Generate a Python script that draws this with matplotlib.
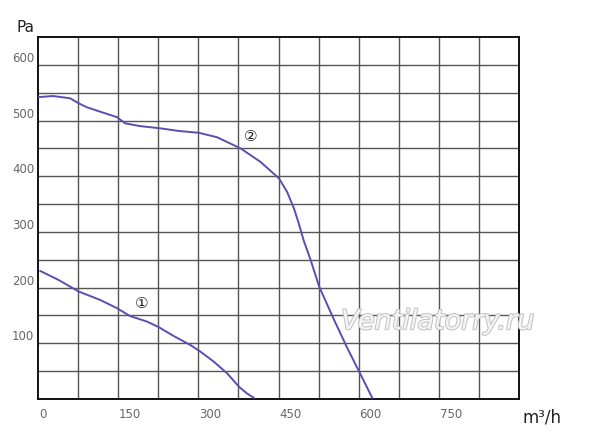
import matplotlib
matplotlib.use("Agg")
import matplotlib.pyplot as plt
import matplotlib.patheffects as pe
import matplotlib.transforms as mtransforms

# Curve 1 (m3/h, Pa)
c1_x = [4, 38, 76, 116, 148, 172, 204, 226, 254, 285, 304, 329, 354, 376, 391, 404]
c1_y = [230, 214, 193, 178, 163, 149, 139, 129, 113, 97, 85, 67, 46, 22, 10, 2]

# Curve 2 (m3/h, Pa)
c2_x = [0, 28, 60, 76, 91, 116, 148, 163, 191, 229, 266, 301, 335, 379, 416, 451,
        466, 479, 488, 497, 510, 526, 554, 579, 601, 626]
c2_y = [542, 544, 540, 531, 524, 516, 506, 495, 490, 486, 481, 478, 470, 450, 426, 396,
        372, 342, 315, 285, 250, 202, 142, 91, 49, 1]

x_ticks = [0, 150, 300, 450, 600, 750]
y_ticks = [100, 200, 300, 400, 500, 600]
x_grid_step = 75
y_grid_step = 50
x_max = 900
y_max = 650

fig = plt.figure(figsize=(6, 4.47), dpi=100)
ax = fig.add_axes([38/600, 48/447, 481/600, 362/447])
ax.set_xlim(0, x_max)
ax.set_ylim(0, y_max)

for gx in range(x_grid_step, x_max, x_grid_step):
    ax.axvline(gx, color="#555555", lw=1.0, zorder=1)
for gy in range(y_grid_step, y_max, y_grid_step):
    ax.axhline(gy, color="#555555", lw=1.0, zorder=1)

col = "#5a4fb0"
ax.plot(c1_x, c1_y, color=col, lw=1.4, zorder=3, solid_capstyle="round")
ax.plot(c2_x, c2_y, color=col, lw=1.4, zorder=3, solid_capstyle="round")

ax.text(194, 171, "①", fontsize=11, ha="center", va="center", color="#222222",
        family=["DejaVu Sans"])
ax.text(397, 471, "②", fontsize=11, ha="center", va="center", color="#222222",
        family=["DejaVu Sans"])

for s in ax.spines.values():
    s.set_color("#111111")
    s.set_linewidth(1.4)

ax.set_xticks(x_ticks)
ax.set_yticks(y_ticks)
ax.tick_params(length=0, labelsize=8.5, labelcolor="#666666")
ax.set_xticklabels([str(v) for v in x_ticks])
ax.set_yticklabels([str(v) for v in y_ticks])
for i, lab in enumerate(ax.get_xticklabels()):
    dx = 5 if i == 0 else 12
    lab.set_transform(lab.get_transform() + mtransforms.ScaledTranslation(dx/100, -4/100, fig.dpi_scale_trans))
for lab in ax.get_yticklabels():
    lab.set_transform(lab.get_transform() + mtransforms.ScaledTranslation(1/100, 8/100, fig.dpi_scale_trans))

fig.text(17/600, 1 - 27/447, "Pa", fontsize=11, ha="left", va="center", color="#222222")
fig.text(522/600, 1 - 417/447, "m³/h", fontsize=12, ha="left", va="center", color="#222222")

ax.text(748, 138, "Ventilatorry.ru", fontsize=19.5, style="italic", ha="center", va="center",
        color="#f4f4f4", zorder=4,
        path_effects=[pe.withStroke(linewidth=1.5, foreground="#c4c4c4")])

fig.savefig("out.png", dpi=100)
